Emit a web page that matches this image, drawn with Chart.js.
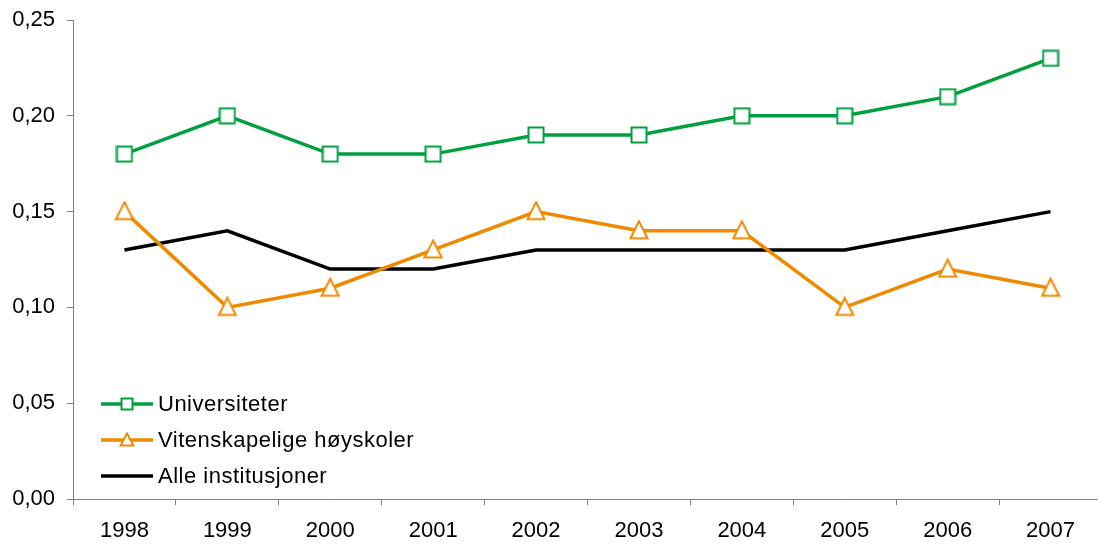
<!DOCTYPE html>
<html lang="no">
<head>
<meta charset="utf-8">
<title>Andel per år</title>
<script src="https://cdn.jsdelivr.net/npm/chart.js@4.4.1/dist/chart.umd.min.js"></script>
<style>
  html, body { margin: 0; padding: 0; background: #ffffff; overflow: hidden; }
  #wrap { position: relative; width: 1102px; height: 550px; }
</style>
</head>
<body>
<div id="wrap"><canvas id="chart"></canvas></div>
<script>
// Categories, series and ticks
const years = ['1998', '1999', '2000', '2001', '2002', '2003', '2004', '2005', '2006', '2007'];
const universiteter = [0.18, 0.20, 0.18, 0.18, 0.19, 0.19, 0.20, 0.20, 0.21, 0.23];
const hoyskoler = [0.15, 0.10, 0.11, 0.13, 0.15, 0.14, 0.14, 0.10, 0.12, 0.11];
const alleInstitusjoner = [0.13, 0.14, 0.12, 0.12, 0.13, 0.13, 0.13, 0.13, 0.14, 0.15];
const yTickValues = [0, 0.05, 0.10, 0.15, 0.20, 0.25];
const seriesNames = ['Universiteter', 'Vitenskapelige høyskoler', 'Alle institusjoner'];

const GREEN = '#00A040';
const ORANGE = '#EE8A00';
const BLACK = '#000000';
const AXIS = '#808080';
const FONT = "'Liberation Sans', Arial, sans-serif";

// Hollow marker images (white fill, coloured outline)
function squareMarker(side, color) {
  const c = document.createElement('canvas');
  const s = side + 2;
  c.width = s; c.height = s;
  const g = c.getContext('2d');
  g.fillStyle = '#ffffff';
  g.strokeStyle = color;
  g.lineWidth = 2;
  g.fillRect(1.5, 1.5, s - 3, s - 3);
  g.strokeRect(1.5, 1.5, s - 3, s - 3);
  return c;
}
function triangleMarker(w, h, color) {
  const c = document.createElement('canvas');
  const cw = w + 2, ch = h + 4;
  c.width = cw; c.height = ch;
  const g = c.getContext('2d');
  g.fillStyle = '#ffffff';
  g.strokeStyle = color;
  g.lineWidth = 2;
  g.lineJoin = 'miter';
  g.beginPath();
  g.moveTo(cw / 2, 1.5);
  g.lineTo(cw - 1.5, h + 0.5);
  g.lineTo(1.5, h + 0.5);
  g.closePath();
  g.fill();
  g.stroke();
  return c;
}

const squarePoint = squareMarker(16, GREEN);
const trianglePoint = triangleMarker(18, 18, ORANGE);
const squareLegend = squareMarker(12, GREEN);
const triangleLegend = triangleMarker(14, 13, ORANGE);

// Legend drawn inside the plot, lower left
const insideLegend = {
  id: 'insideLegend',
  afterDatasetsDraw(chart) {
    const { ctx, chartArea } = chart;
    const x0 = chartArea.left + 28;
    const lineLen = 52;
    const rows = [chartArea.bottom - 95, chartArea.bottom - 59, chartArea.bottom - 23];
    const markers = [squareLegend, triangleLegend, null];
    ctx.save();
    chart.data.datasets.forEach((ds, i) => {
      const y = rows[i];
      ctx.strokeStyle = ds.borderColor;
      ctx.lineWidth = 3.5;
      ctx.beginPath();
      ctx.moveTo(x0, y);
      ctx.lineTo(x0 + lineLen, y);
      ctx.stroke();
      const m = markers[i];
      if (m) {
        ctx.drawImage(m, Math.round(x0 + lineLen / 2 - m.width / 2), Math.round(y - m.height / 2));
      }
      ctx.fillStyle = '#000000';
      ctx.font = '22px ' + FONT;
      if ('letterSpacing' in ctx) ctx.letterSpacing = '0.5px';
      ctx.textAlign = 'left';
      ctx.textBaseline = 'middle';
      ctx.fillText(ds.label, x0 + lineLen + 5, y + 1);
    });
    ctx.restore();
  }
};

new Chart(document.getElementById('chart'), {
  type: 'line',
  data: {
    labels: years,
    datasets: [
      {
        label: seriesNames[0],
        data: universiteter,
        borderColor: GREEN,
        backgroundColor: GREEN,
        borderWidth: 3.5,
        pointStyle: squarePoint,
        tension: 0
      },
      {
        label: seriesNames[1],
        data: hoyskoler,
        borderColor: ORANGE,
        backgroundColor: ORANGE,
        borderWidth: 3.5,
        pointStyle: trianglePoint,
        tension: 0
      },
      {
        label: seriesNames[2],
        data: alleInstitusjoner,
        borderColor: BLACK,
        backgroundColor: BLACK,
        borderWidth: 3.5,
        pointRadius: 0,
        tension: 0
      }
    ]
  },
  options: {
    responsive: true,
    maintainAspectRatio: false,
    animation: false,
    events: [],
    layout: { autoPadding: false, padding: { top: 20, right: 0, bottom: 0, left: 0 } },
    plugins: {
      legend: { display: false },
      tooltip: { enabled: false }
    },
    scales: {
      x: {
        offset: true,
        grid: {
          offset: true,
          drawOnChartArea: false,
          drawTicks: true,
          tickLength: 6,
          color: AXIS,
          lineWidth: 1
        },
        border: { display: true, color: AXIS, width: 1 },
        ticks: {
          color: '#000000',
          font: { family: FONT, size: 22 },
          padding: 13,
          maxRotation: 0,
          autoSkip: false
        },
        afterFit(scale) {
          scale.height = 51;
          scale.paddingLeft = 0;
          scale.paddingRight = 0;
        }
      },
      y: {
        min: 0,
        max: 0.25,
        grid: {
          drawOnChartArea: false,
          drawTicks: true,
          tickLength: 6,
          color: AXIS,
          lineWidth: 1
        },
        border: { display: true, color: AXIS, width: 1 },
        afterBuildTicks(scale) {
          scale.ticks = yTickValues.map(v => ({ value: v }));
        },
        ticks: {
          color: '#000000',
          font: { family: FONT, size: 22 },
          padding: 12,
          callback: (v) => Number(v).toFixed(2).replace('.', ',')
        },
        afterFit(scale) {
          scale.width = 73;
          scale.paddingTop = 0;
          scale.paddingBottom = 0;
        }
      }
    }
  },
  plugins: [insideLegend]
});
</script>
</body>
</html>
